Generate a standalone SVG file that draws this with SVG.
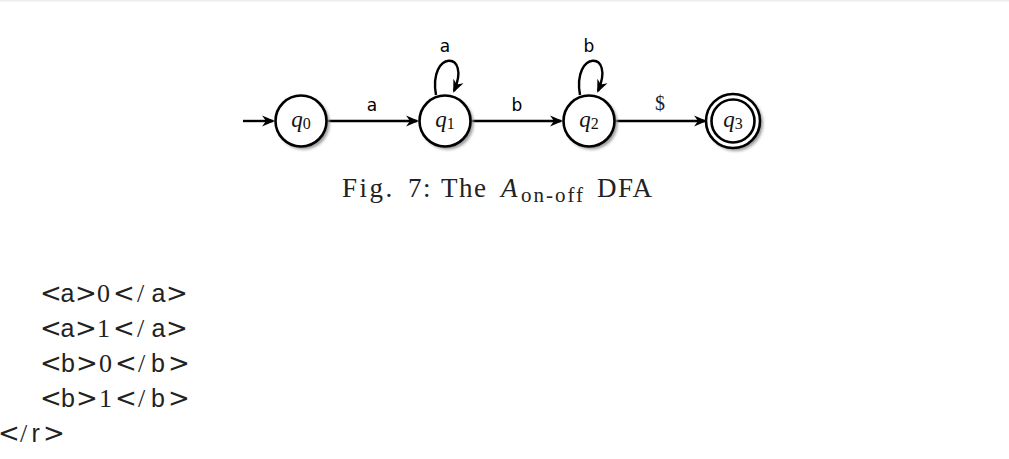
<svg xmlns="http://www.w3.org/2000/svg" width="1009" height="459" viewBox="0 0 1009 459">
<style>
.st{fill:#fff;stroke:#000;stroke-width:2.6}
.sh{fill:#999;filter:url(#blur)}
.e{fill:none;stroke:#000;stroke-width:2.4;marker-end:url(#ah)}
.q{font-family:"Liberation Serif",serif;font-style:italic;font-size:23px;fill:#111}
.sub{font-size:16px;font-style:normal}
.lab{font-family:"DejaVu Sans","Liberation Sans",sans-serif;font-size:17px;fill:#000}
.serif{font-family:"Liberation Serif",serif;fill:#222}
.sans{font-family:"Liberation Sans",sans-serif;font-size:25px}
.sym{font-family:"DejaVu Sans",sans-serif;font-size:26px}
</style>
<defs>
<filter id="blur" x="-30%" y="-30%" width="160%" height="160%"><feGaussianBlur stdDeviation="1.8"/></filter>
<marker id="ah" markerWidth="14" markerHeight="12" refX="11" refY="6" orient="auto" markerUnits="userSpaceOnUse" viewBox="0 0 14 12">
<path d="M0,0.5 L13,6 L0,11.5 L4,6 Z" fill="#000"/>
</marker>
</defs>
<rect x="0" y="0" width="1009" height="1.5" fill="#eee"/>
<g id="edges">
<path class="e" d="M243,121 L273,121"/>
<path class="e" d="M328,121 L417,121"/>
<path class="e" d="M472,121 L561,121"/>
<path class="e" d="M616,121 L705,121"/>
<path class="e" d="M436,95 C428,50 472,50 454,91"/>
<path class="e" d="M580,95 C572,50 616,50 598,91"/>
<text class="lab" x="372" y="111" text-anchor="middle">a</text>
<text class="lab" x="517" y="111" text-anchor="middle">b</text>
<text class="serif" x="660" y="110" text-anchor="middle" font-size="20" fill="#000">$</text>
<text class="lab" x="445" y="52" text-anchor="middle">a</text>
<text class="lab" x="589" y="52" text-anchor="middle">b</text>
</g>
<g id="q0">
<circle class="sh" cx="303.5" cy="123.5" r="26"/>
<circle class="st" cx="301" cy="121" r="25.5"/>
<text class="q" x="301" y="127" text-anchor="middle">q<tspan class="sub" dy="2">0</tspan></text>
</g>
<g id="q1">
<circle class="sh" cx="447.5" cy="123.5" r="26"/>
<circle class="st" cx="445" cy="121" r="25.5"/>
<text class="q" x="445" y="127" text-anchor="middle">q<tspan class="sub" dy="2">1</tspan></text>
</g>
<g id="q2">
<circle class="sh" cx="591.5" cy="123.5" r="26"/>
<circle class="st" cx="589" cy="121" r="25.5"/>
<text class="q" x="589" y="127" text-anchor="middle">q<tspan class="sub" dy="2">2</tspan></text>
</g>
<g id="q3">
<circle class="sh" cx="735.5" cy="123.5" r="27.5"/>
<circle class="st" cx="733" cy="121" r="27"/>
<circle class="st" cx="733" cy="121" r="21.5" stroke-width="2"/>
<text class="q" x="733" y="127" text-anchor="middle">q<tspan class="sub" dy="2">3</tspan></text>
</g>
<g id="caption" class="serif" font-size="27" letter-spacing="1.5">
<text y="197"><tspan x="342" letter-spacing="2.5">Fig.</tspan><tspan x="408">7:</tspan><tspan x="441">The</tspan><tspan x="501" font-style="italic">A</tspan><tspan x="521" y="202" font-size="21" letter-spacing="2">on-off</tspan><tspan x="597" y="197">DFA</tspan></text>
</g>
<g id="code" class="serif" font-size="26">
<text y="302"><tspan class="sym" x="40">&lt;</tspan><tspan class="sans" x="60.5">a</tspan><tspan class="sym" x="75">&gt;</tspan><tspan x="97">0</tspan><tspan class="sym" x="113">&lt;</tspan><tspan x="137">/</tspan><tspan class="sans" x="151.5">a</tspan><tspan class="sym" x="166">&gt;</tspan></text>
<text y="337"><tspan class="sym" x="40">&lt;</tspan><tspan class="sans" x="60.5">a</tspan><tspan class="sym" x="75">&gt;</tspan><tspan x="97">1</tspan><tspan class="sym" x="113">&lt;</tspan><tspan x="137">/</tspan><tspan class="sans" x="151.5">a</tspan><tspan class="sym" x="166">&gt;</tspan></text>
<text y="372"><tspan class="sym" x="40">&lt;</tspan><tspan class="sans" x="61">b</tspan><tspan class="sym" x="76">&gt;</tspan><tspan x="99">0</tspan><tspan class="sym" x="115">&lt;</tspan><tspan x="138">/</tspan><tspan class="sans" x="151">b</tspan><tspan class="sym" x="168">&gt;</tspan></text>
<text y="407"><tspan class="sym" x="40">&lt;</tspan><tspan class="sans" x="61">b</tspan><tspan class="sym" x="76">&gt;</tspan><tspan x="99">1</tspan><tspan class="sym" x="115">&lt;</tspan><tspan x="138">/</tspan><tspan class="sans" x="151">b</tspan><tspan class="sym" x="168">&gt;</tspan></text>
<text y="442"><tspan class="sym" x="-2">&lt;</tspan><tspan x="20">/</tspan><tspan class="sans" x="31.5">r</tspan><tspan class="sym" x="43">&gt;</tspan></text>
</g>
</svg>
